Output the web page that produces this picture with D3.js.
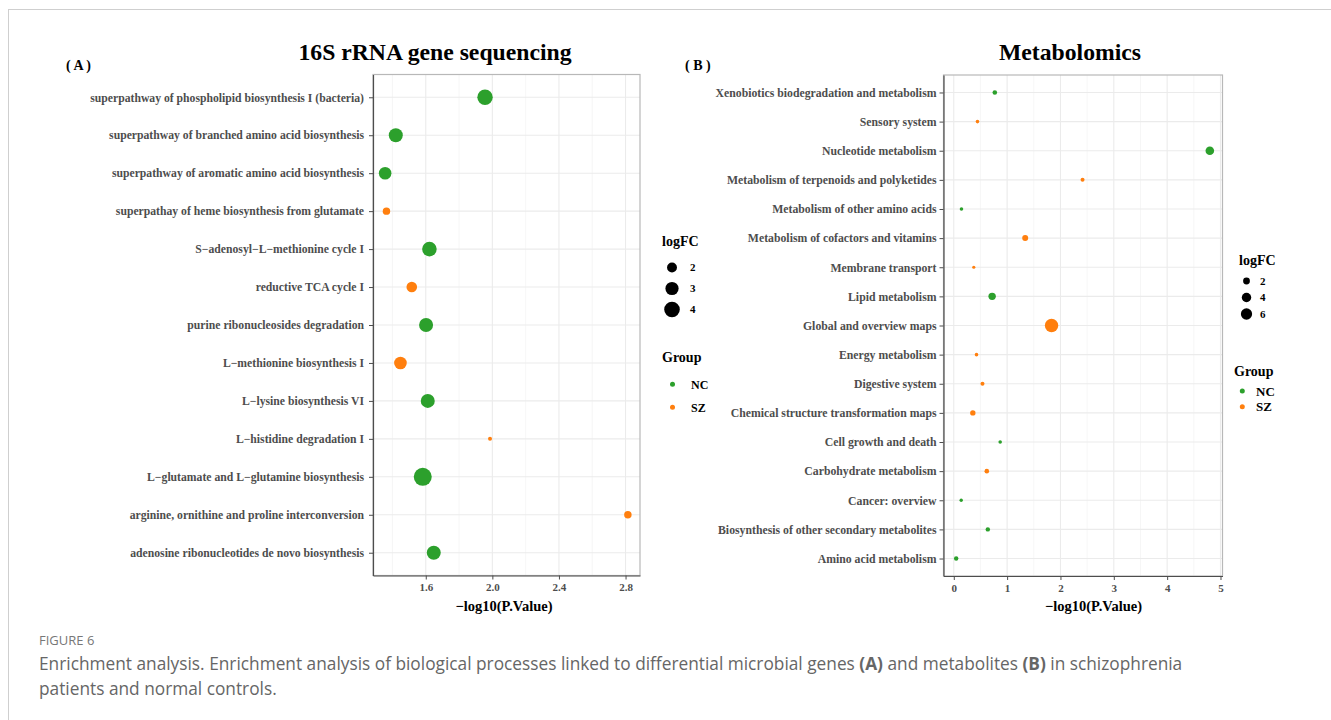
<!DOCTYPE html>
<html>
<head>
<meta charset="utf-8">
<script src="https://cdn.jsdelivr.net/npm/d3@7/dist/d3.min.js"></script>
<style>
  html, body { margin: 0; padding: 0; background: #fff; }
  svg { display: block; }
  .serif { font-family: "Liberation Serif", "Times New Roman", serif; }
</style>
</head>
<body>
<svg id="fig" width="1331" height="720"></svg>
<script>
// ---- Panel A: 16S rRNA gene sequencing pathways (top to bottom) ----
const pathwaysA = [
  "superpathway of phospholipid biosynthesis I (bacteria)",
  "superpathway of branched amino acid biosynthesis",
  "superpathway of aromatic amino acid biosynthesis",
  "superpathay of heme biosynthesis from glutamate",
  "S\u2212adenosyl\u2212L\u2212methionine cycle I",
  "reductive TCA cycle I",
  "purine ribonucleosides degradation",
  "L\u2212methionine biosynthesis I",
  "L\u2212lysine biosynthesis VI",
  "L\u2212histidine degradation I",
  "L\u2212glutamate and L\u2212glutamine biosynthesis",
  "arginine, ornithine and proline interconversion",
  "adenosine ribonucleotides de novo biosynthesis"
];
const negLogPA = [1.956, 1.420, 1.356, 1.364, 1.622, 1.516, 1.602, 1.448, 1.612, 1.986, 1.582, 2.814, 1.648];
const logFCA   = [3.93, 3.32, 2.79, 1.52, 3.57, 2.17, 3.32, 2.79, 3.32, 1.28, 5.28, 1.52, 3.32];
const groupA   = ["NC", "NC", "NC", "SZ", "NC", "SZ", "NC", "SZ", "NC", "SZ", "NC", "SZ", "NC"];
const xTicksA  = [1.6, 2.0, 2.4, 2.8];
const xMinorA  = [1.4, 1.8, 2.2, 2.6];
const sizeBreaksA = [2, 3, 4];

// ---- Panel B: metabolomics pathways (top to bottom) ----
const pathwaysB = [
  "Xenobiotics biodegradation and metabolism",
  "Sensory system",
  "Nucleotide metabolism",
  "Metabolism of terpenoids and polyketides",
  "Metabolism of other amino acids",
  "Metabolism of cofactors and vitamins",
  "Membrane transport",
  "Lipid metabolism",
  "Global and overview maps",
  "Energy metabolism",
  "Digestive system",
  "Chemical structure transformation maps",
  "Cell growth and death",
  "Carbohydrate metabolism",
  "Cancer: overview",
  "Biosynthesis of other secondary metabolites",
  "Amino acid metabolism"
];
const negLogPB = [0.769, 0.444, 4.800, 2.414, 0.144, 1.339, 0.375, 0.719, 1.833, 0.426, 0.538, 0.357, 0.870, 0.619, 0.139, 0.638, 0.045];
const logFCB   = [1.15, 1.01, 3.24, 1.05, 1.01, 1.60, 1.00, 2.36, 9.00, 1.01, 1.05, 1.37, 1.01, 1.15, 1.003, 1.11, 1.11];
const groupB   = ["NC", "SZ", "NC", "SZ", "NC", "SZ", "SZ", "NC", "SZ", "SZ", "SZ", "SZ", "NC", "SZ", "NC", "NC", "NC"];
const xTicksB  = [0, 1, 2, 3, 4, 5];
const xMinorB  = [0.5, 1.5, 2.5, 3.5, 4.5];
const sizeBreaksB = [2, 4, 6];

const groups = ["NC", "SZ"];
const groupColors = ["#2ca02c", "#ff7f0e"];

const svg = d3.select("#fig");
const color = d3.scaleOrdinal().domain(groups).range(groupColors);

// frame around the figure
svg.append("line").attr("x1", 8).attr("x2", 1331).attr("y1", 9.5).attr("y2", 9.5)
  .attr("stroke", "#cfcfcf").attr("stroke-width", 1);
svg.append("line").attr("x1", 8.5).attr("x2", 8.5).attr("y1", 9).attr("y2", 720)
  .attr("stroke", "#cfcfcf").attr("stroke-width", 1);

// ggplot-style area scale: radius grows with sqrt of the rescaled value
function sizeScale(values, rMin, rMax) {
  const t = d3.scaleLinear().domain(d3.extent(values)).range([0, 1]);
  const r = d3.scaleLinear().domain([0, 1]).range([rMin, rMax]);
  return v => r(Math.sqrt(Math.max(0, t(v))));
}

function drawPanel(cfg) {
  const g = svg.append("g").attr("class", "serif");
  const { left, right, top, bottom } = cfg.box;

  const ext = d3.extent(cfg.x);
  const pad = (ext[1] - ext[0]) * 0.05;
  const x = d3.scaleLinear().domain([ext[0] - pad, ext[1] + pad]).range([left, right]);
  const y = d3.scalePoint().domain(cfg.names).range([top, bottom]).padding(0.6);
  const rad = sizeScale(cfg.size, cfg.rRange[0], cfg.rRange[1]);

  // grid
  const grid = g.append("g");
  grid.selectAll(".minor").data(cfg.minor).join("line")
    .attr("x1", d => x(d)).attr("x2", d => x(d)).attr("y1", top).attr("y2", bottom)
    .attr("stroke", "#f2f2f2").attr("stroke-width", 0.7);
  grid.selectAll(".majx").data(cfg.ticks).join("line")
    .attr("x1", d => x(d)).attr("x2", d => x(d)).attr("y1", top).attr("y2", bottom)
    .attr("stroke", "#ebebeb").attr("stroke-width", 1.1);
  grid.selectAll(".majy").data(cfg.names).join("line")
    .attr("x1", left).attr("x2", right).attr("y1", d => y(d)).attr("y2", d => y(d))
    .attr("stroke", "#ebebeb").attr("stroke-width", 1.1);

  // panel border
  g.append("rect").attr("x", left).attr("y", top)
    .attr("width", right - left).attr("height", bottom - top)
    .attr("fill", "none").attr("stroke", "#b8b8b8").attr("stroke-width", 1.2);

  // points
  const rows = cfg.names.map((n, i) => ({ name: n, x: cfg.x[i], s: cfg.size[i], grp: cfg.group[i] }));
  g.append("g").selectAll("circle").data(rows).join("circle")
    .attr("cx", d => x(d.x)).attr("cy", d => y(d.name))
    .attr("r", d => rad(d.s)).attr("fill", d => color(d.grp));

  // axes
  const xAxis = g.append("g").attr("transform", `translate(0,${bottom})`)
    .call(d3.axisBottom(x).tickValues(cfg.ticks).tickFormat(cfg.fmt).tickSize(4).tickPadding(4).tickSizeOuter(0));
  const yAxis = g.append("g").attr("transform", `translate(${left},0)`)
    .call(d3.axisLeft(y).tickSize(4).tickPadding(cfg.yPad).tickSizeOuter(0));
  [xAxis, yAxis].forEach(a => {
    a.select(".domain").attr("stroke", "#4d4d4d").attr("stroke-width", 1.2);
    a.selectAll(".tick line").attr("stroke", "#4d4d4d").attr("stroke-width", 1);
    a.selectAll("text").attr("fill", "#4d4d4d").attr("font-weight", "bold")
      .attr("font-family", "Liberation Serif, Times New Roman, serif");
  });
  xAxis.selectAll("text").attr("font-size", 11);
  yAxis.selectAll("text").attr("font-size", cfg.yFont);

  // axis title
  g.append("text").attr("x", cfg.xTitleX).attr("y", bottom + 35)
    .attr("text-anchor", "middle").attr("font-size", 14.5).attr("font-weight", "bold")
    .attr("fill", "#000").text("\u2212log10(P.Value)");

  // panel title and tag
  g.append("text").attr("x", cfg.titleX).attr("y", 60)
    .attr("text-anchor", "middle").attr("font-size", 23.7).attr("font-weight", "bold")
    .attr("fill", "#000").text(cfg.title);
  g.append("text").attr("x", cfg.tagX).attr("y", 70)
    .attr("font-size", 14).attr("font-weight", "bold").attr("fill", "#000")
    .attr("xml:space", "preserve").text(cfg.tag);

  // legends
  const L = cfg.legend;
  const lg = g.append("g");
  lg.append("text").attr("x", L.titleX).attr("y", L.sizeTitleY)
    .attr("font-size", 14).attr("font-weight", "bold").text("logFC");
  lg.selectAll(".sk").data(cfg.breaks).join("circle")
    .attr("cx", L.keyX).attr("cy", (d, i) => L.sizeY0 + i * L.sizeStep)
    .attr("r", d => rad(d)).attr("fill", "#000");
  lg.selectAll(".sl").data(cfg.breaks).join("text")
    .attr("x", L.labelX).attr("y", (d, i) => L.sizeY0 + i * L.sizeStep)
    .attr("dy", "0.35em").attr("font-size", 11).attr("font-weight", "bold").text(d => d);

  lg.append("text").attr("x", L.groupTitleX).attr("y", L.groupTitleY)
    .attr("font-size", 14).attr("font-weight", "bold").text("Group");
  lg.selectAll(".gk").data(groups).join("circle")
    .attr("cx", L.gKeyX).attr("cy", (d, i) => L.groupY0 + i * L.groupStep)
    .attr("r", 2.5).attr("fill", d => color(d));
  lg.selectAll(".gl").data(groups).join("text")
    .attr("x", L.gLabelX).attr("y", (d, i) => L.groupY0 + i * L.groupStep)
    .attr("dy", "0.35em").attr("font-size", L.gFont).attr("font-weight", "bold").text(d => d);
}

drawPanel({
  names: pathwaysA, x: negLogPA, size: logFCA, group: groupA,
  ticks: xTicksA, minor: xMinorA, fmt: d3.format(".1f"), breaks: sizeBreaksA,
  box: { left: 373, right: 640, top: 74.5, bottom: 575.5 },
  rRange: [2, 9], yFont: 11.7, yPad: 5,
  title: "16S rRNA gene sequencing", titleX: 435, tag: "( A )", tagX: 66, xTitleX: 504,
  legend: { titleX: 662, sizeTitleY: 246, keyX: 672, labelX: 690, sizeY0: 267.5, sizeStep: 21,
            groupTitleX: 662, groupTitleY: 362, gKeyX: 672.5, gLabelX: 691, groupY0: 384.3, groupStep: 23, gFont: 12 }
});

drawPanel({
  names: pathwaysB, x: negLogPB, size: logFCB, group: groupB,
  ticks: xTicksB, minor: xMinorB, fmt: d3.format("d"), breaks: sizeBreaksB,
  box: { left: 943.5, right: 1222.5, top: 75, bottom: 576 },
  rRange: [1.6, 6.7], yFont: 11.75, yPad: 3,
  title: "Metabolomics", titleX: 1070, tag: "( B )", tagX: 685, xTitleX: 1093.5,
  legend: { titleX: 1239, sizeTitleY: 265, keyX: 1246.5, labelX: 1260, sizeY0: 281, sizeStep: 16.5,
            groupTitleX: 1234, groupTitleY: 376, gKeyX: 1242.3, gLabelX: 1256, groupY0: 391, groupStep: 15.8, gFont: 13 }
});

// caption
const cap = svg.append("g").attr("font-family", "Open Sans, sans-serif").attr("fill", "#666");
cap.append("text").attr("x", 39).attr("y", 645).attr("font-size", 13).attr("fill", "#777").text("FIGURE 6");
const line1 = cap.append("text").attr("x", 39).attr("y", 670).attr("font-size", 17.3);
line1.append("tspan").text("Enrichment analysis. Enrichment analysis of biological processes linked to differential microbial genes ");
line1.append("tspan").attr("font-weight", "bold").text("(A)");
line1.append("tspan").text(" and metabolites ");
line1.append("tspan").attr("font-weight", "bold").text("(B)");
line1.append("tspan").text(" in schizophrenia");
cap.append("text").attr("x", 39).attr("y", 695).attr("font-size", 17.3).text("patients and normal controls.");
</script>
</body>
</html>
